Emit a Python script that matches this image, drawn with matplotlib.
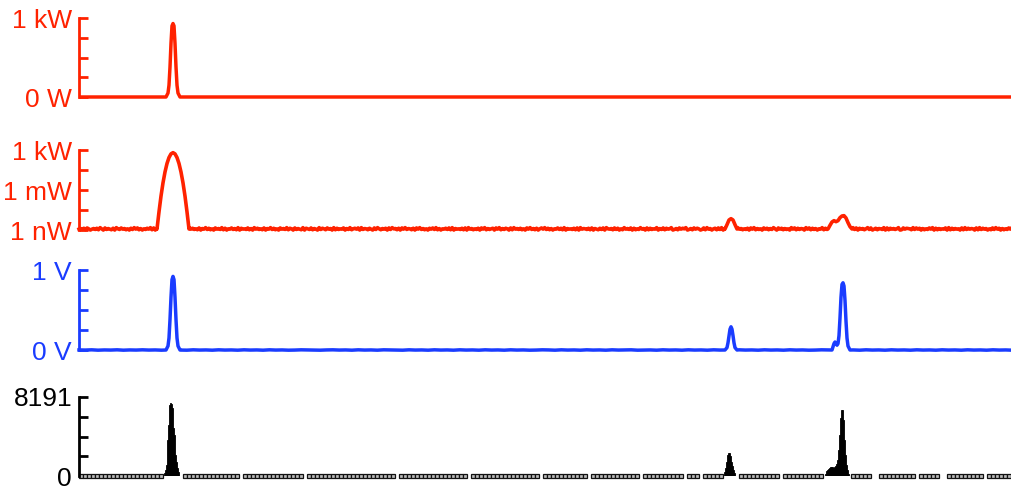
import numpy as np
import matplotlib
matplotlib.use("Agg")
import matplotlib.pyplot as plt

plt.rcParams["font.family"] = ["Liberation Sans", "DejaVu Sans"]

RED = "#ff2200"
BLUE = "#1a3cff"
T_END = 933

# --- panel 1: power, linear (kW)
p1_t = [0, 87, 89, 90, 91, 92, 93, 94, 95, 96, 97, 98, 99, 101, T_END]
p1_kw = [0, 0, 0.05, 0.15, 0.38, 0.68, 0.9, 0.93, 0.9, 0.68, 0.38, 0.15, 0.05, 0, 0]

# --- panel 2: power, log10(W)
p2_pulse_t = [78, 80, 82, 84, 86, 88, 90, 92, 94, 96, 98, 100, 102, 104, 106, 108, 110,
              646, 648, 650, 652, 654, 656, 658,
              749, 751, 753, 755, 757, 759, 761, 763, 765, 767, 769, 771, 773]
p2_pulse_log = [-8.85, -6.28, -3.92, -1.93, -0.3, 0.97, 1.87, 2.42, 2.6, 2.42, 1.87, 0.97,
                -0.3, -1.93, -3.92, -6.28, -8.85,
                -8.85, -8.2, -7.5, -7.3, -7.5, -8.2, -8.85,
                -8.85, -8.3, -7.8, -7.6, -7.75, -7.6, -7.15, -6.9, -6.85, -7.2, -7.9, -8.5, -8.85]
red_noise = (
    "4637285146372951836427195384625173948261537492816354728193645273"
    "8162947352816493725184639271548362917453826194735281649372518463"
    "9275183642917538264193752846192735481639257481936527418395264718"
    "3956271849365271849362517483926154738291645372819462537184926357"
    "1849263751829463725184936271584937261548372916453728194653728164"
    "2738195462837152946381725394618273549163827459136284759136284751"
    "3829461572839164527381946253718492635184726395184726351948273651"
    "9482736154927381645293817465293817462593814726539182746359128476"
    "5293847162538491726354819273645182937465182937461528394716253849")
red_floor = -8.85
red_step = 0.045

# --- panel 3: voltage (V)
p3_pulse_t = [87, 89, 90, 91, 92, 93, 94, 95, 96, 97, 98, 99, 101,
              646, 648, 649, 650, 651, 652, 653, 654, 655, 656, 658,
              753, 754, 755, 756, 757, 758, 759, 760, 761, 762, 763, 764, 765, 766, 767, 768, 769, 771]
p3_pulse_v = [0, 0.05, 0.15, 0.38, 0.66, 0.88, 0.92, 0.88, 0.66, 0.38, 0.15, 0.05, 0,
              0, 0.03, 0.09, 0.18, 0.26, 0.29, 0.26, 0.18, 0.09, 0.03, 0,
              0, 0.04, 0.08, 0.1, 0.08, 0.06, 0.08, 0.18, 0.4, 0.66, 0.82, 0.84, 0.8, 0.62, 0.36, 0.15, 0.05, 0]
blue_noise = (
    "5463546354645365436453645364536453465435645364536543645364536453"
    "6453645346536453645364563453645364536453645364536453465364536453"
    "64536453645364536453")
blue_step = 0.0015

# --- panel 4: histogram counts (bin -> count)
hist_bins = [86, 87, 88, 89, 90, 91, 92, 93, 94, 95, 96, 97, 98, 99, 100,
             646, 647, 648, 649, 650, 651, 652, 653, 654, 655, 656,
             747, 748, 749, 750, 751, 752, 753, 754, 755, 756, 757, 758, 759, 760,
             761, 762, 763, 764, 765, 766, 767, 768, 769, 770]
hist_counts = [300, 622, 1140, 3733, 5287, 7361, 7569, 7465, 7050, 4977, 4251, 2177, 1452, 829, 415,
               415, 829, 1452, 2177, 2385, 2385, 2074, 1452, 1037, 622, 311,
               207, 518, 622, 726, 829, 933, 933, 933, 829, 933, 1037, 1244, 1659, 2696,
               4251, 6014, 6843, 6843, 5806, 3733, 2177, 1140, 622, 207]
hist_gaps = [161, 227, 319, 391, 462, 511, 561, 605, 621, 702, 796, 838, 864, 906]
HIST_MAX = 8191


def merge(pulse_t, pulse_v, noise_t, noise_v):
    pulse_t = np.asarray(pulse_t, float)
    keep = np.ones(len(noise_t), bool)
    # drop noise samples that fall inside a pulse window
    for a, b in zip(pulse_t[:-1], pulse_t[1:]):
        if b - a <= 3:
            keep &= ~((noise_t >= a) & (noise_t <= b))
    t = np.concatenate([noise_t[keep], pulse_t])
    v = np.concatenate([np.asarray(noise_v)[keep], pulse_v])
    o = np.argsort(t)
    return t[o], v[o]


def style(ax, color, ticks, labels, minor):
    for s in ["top", "right", "bottom"]:
        ax.spines[s].set_visible(False)
    ax.spines["left"].set_color(color)
    ax.spines["left"].set_linewidth(2)
    ax.set_xlim(0, T_END)
    ax.set_xticks([])
    ax.set_yticks(ticks)
    ax.set_yticklabels(labels)
    ax.set_yticks(minor, minor=True)
    ax.tick_params(axis="y", which="both", direction="in", length=6.5, width=2,
                   color=color, labelcolor=color, labelsize=19, pad=5)
    ax.patch.set_visible(False)


fig = plt.figure(figsize=(10.12, 4.93), dpi=100)
L, W = 79 / 1012, 933 / 1012
ax1 = fig.add_axes([L, 1 - 97 / 493, W, 79 / 493])
ax2 = fig.add_axes([L, 1 - 230 / 493, W, 80 / 493])
ax3 = fig.add_axes([L, 1 - 350 / 493, W, 80 / 493])
ax4 = fig.add_axes([L, 1 - 476 / 493, W, 79 / 493])

# panel 1
ax1.plot(p1_t, p1_kw, color=RED, lw=2.5, clip_on=False, solid_capstyle="butt")
ax1.set_ylim(0, 1)
style(ax1, RED, [0, 1], ["0 W", "1 kW"], [0.25, 0.5, 0.75])

# panel 2
nt = np.linspace(0, T_END, len(red_noise))
nv = [red_floor + (int(d) - 4.5) * red_step for d in red_noise]
t2, v2 = merge(p2_pulse_t, p2_pulse_log, nt, nv)
ax2.plot(t2, v2, color=RED, lw=2.6, clip_on=False)
ax2.set_ylim(-9, 3)
style(ax2, RED, [-9, -3, 3], ["1 nW", "1 mW", "1 kW"], [-6, 0])

# panel 3
bt = np.linspace(0, T_END, len(blue_noise))
bv = [(int(d) - 4.5) * blue_step for d in blue_noise]
t3, v3 = merge(p3_pulse_t, p3_pulse_v, bt, bv)
ax3.plot(t3, v3, color=BLUE, lw=2.5, clip_on=False)
ax3.set_ylim(0, 1)
style(ax3, BLUE, [0, 1], ["0 V", "1 V"], [0.25, 0.5, 0.75])

# panel 4
ax4.bar(hist_bins, hist_counts, width=1.0, color="black", lw=0.6, edgecolor="black")
base_t = np.arange(2, T_END, 4.0)
occupied = np.zeros(len(base_t), bool)
for b in hist_bins:
    occupied |= np.abs(base_t - b) < 2.5
for g in hist_gaps:
    occupied |= np.abs(base_t - g) < 2.5
base_v = np.where(occupied, np.nan, 0.0)
ax4.plot(base_t, base_v, ls="-", lw=0.8, color="#333333", marker="s", ms=3,
         mfc="#bbbbbb", mec="#111111", mew=0.9, clip_on=False)
ax4.set_ylim(0, HIST_MAX)
style(ax4, "black", [0, HIST_MAX], ["0", "8191"], [HIST_MAX / 4, HIST_MAX / 2, 3 * HIST_MAX / 4])

fig.savefig("out.png", dpi=100)
